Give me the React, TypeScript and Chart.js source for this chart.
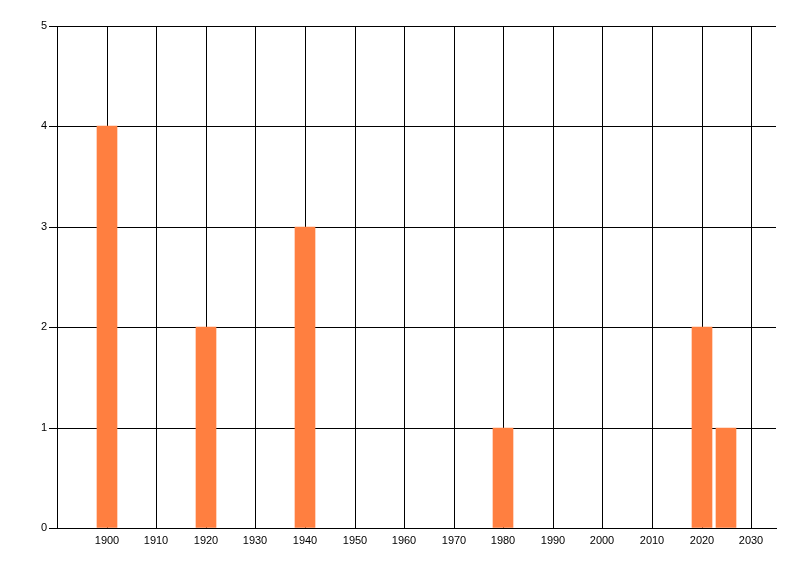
import { useEffect, useRef } from "react";
import { Chart, registerables } from "chart.js";
Chart.register(...registerables);

const years = [1900, 1920, 1940, 1980, 2020, 2025];
const counts = [4, 2, 3, 1, 2, 1];
const xTickValues = [1900, 1910, 1920, 1930, 1940, 1950, 1960, 1970, 1980, 1990, 2000, 2010, 2020, 2030];
const yTickValues = [0, 1, 2, 3, 4, 5];

export default function App() {
  const ref = useRef<HTMLCanvasElement>(null);
  useEffect(() => {
    document.body.style.margin = "0";
    const font = { family: "'Liberation Sans', Arial, sans-serif", size: 11 };
    const chart = new Chart(ref.current!, {
      type: "bar",
      data: {
        datasets: [
          {
            data: years.map((x, i) => ({ x, y: counts[i] })),
            backgroundColor: "#FF7F40",
            borderWidth: 0,
            barThickness: 20,
          },
        ],
      },
      options: {
        animation: false,
        responsive: false,
        layout: { padding: { top: 26, right: 24, left: 0, bottom: 0 } },
        plugins: { legend: { display: false }, tooltip: { enabled: false } },
        scales: {
          x: {
            type: "linear",
            min: 1890,
            max: 2035,
            offset: false,
            alignToPixels: true,
            afterBuildTicks: (s: any) => {
              s.ticks = xTickValues.map((v) => ({ value: v }));
            },
            afterFit: (s: any) => {
              s.height = 48;
            },
            grid: { color: "#000", drawTicks: false, lineWidth: 1, offset: false },
            border: { color: "#000" },
            ticks: {
              color: "#000",
              font,
              padding: 6,
              maxRotation: 0,
              autoSkip: false,
              callback: (v: any) => String(v),
            },
          },
          y: {
            type: "linear",
            min: 0,
            max: 5,
            alignToPixels: true,
            afterBuildTicks: (s: any) => {
              s.ticks = yTickValues.map((v) => ({ value: v }));
            },
            afterFit: (s: any) => {
              s.width = 57;
            },
            grid: { color: "#000", tickLength: 8, lineWidth: 1 },
            border: { color: "#000" },
            ticks: { color: "#000", font, padding: 2, callback: (v: any) => String(v) },
          },
        },
      },
    } as any);
    return () => chart.destroy();
  }, []);
  return <canvas ref={ref} width={800} height={576} style={{ display: "block" }} />;
}
